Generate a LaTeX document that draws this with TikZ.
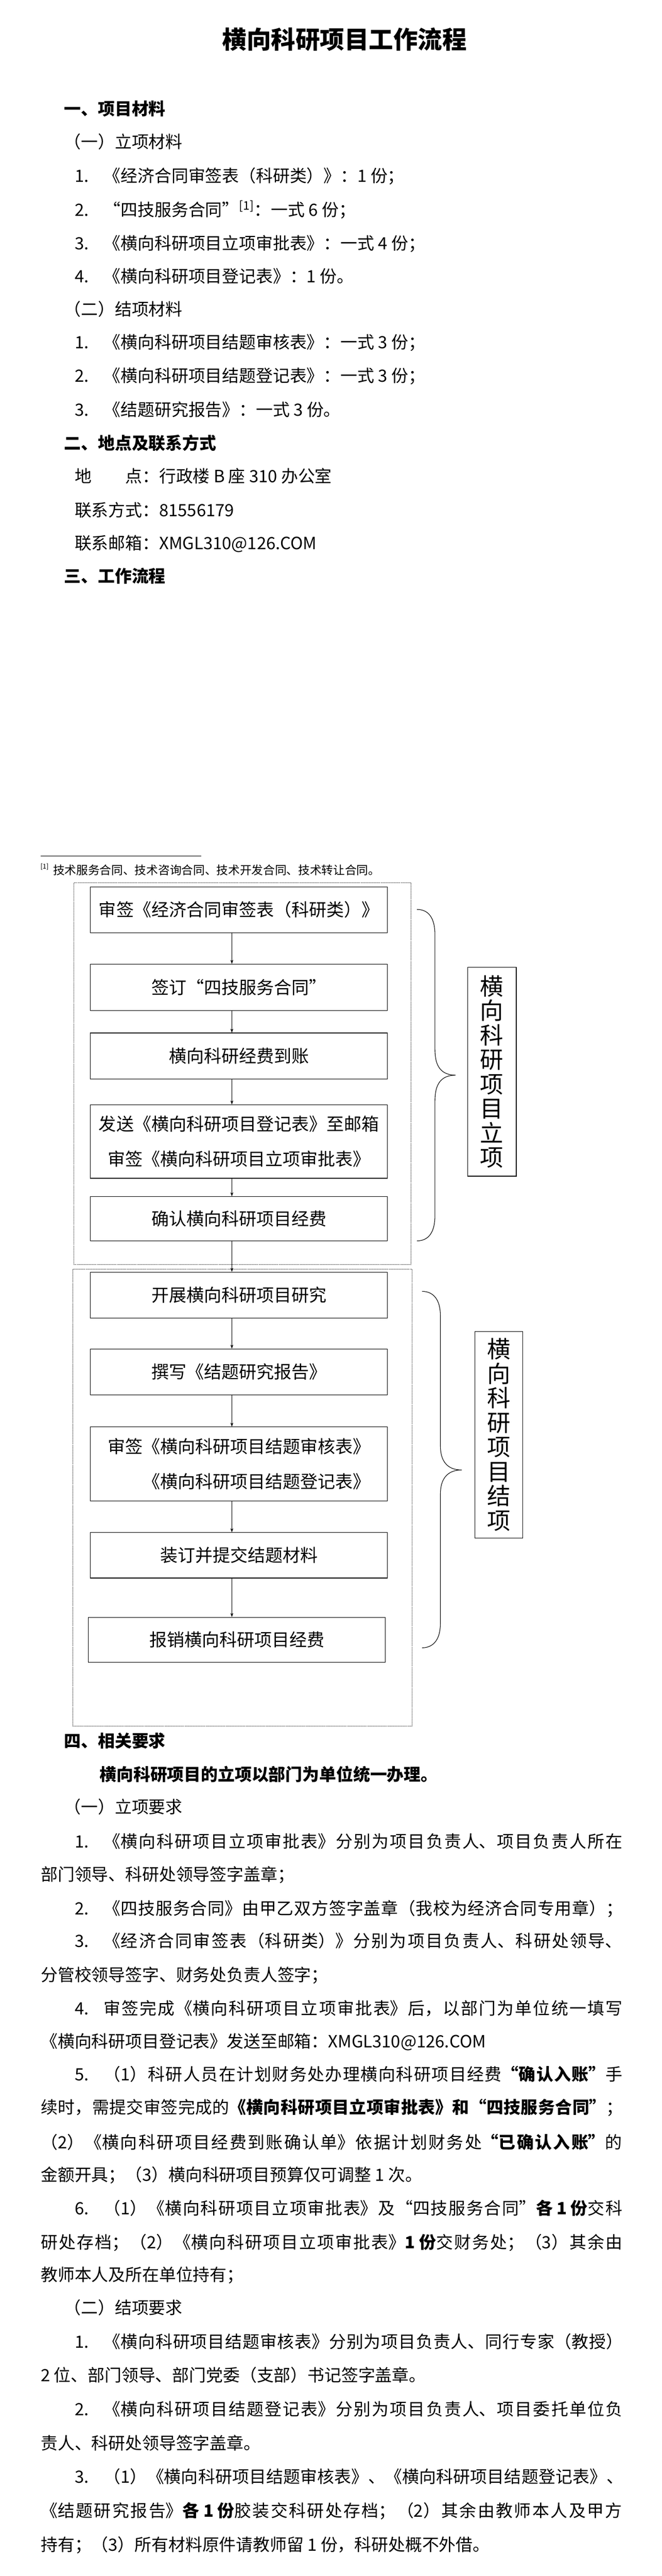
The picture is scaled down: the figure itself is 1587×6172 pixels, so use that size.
\documentclass[tikz,border=0pt]{standalone}
\usepackage{fontspec}
\setmainfont{Noto Sans CJK SC}
\usetikzlibrary{arrows.meta}
\XeTeXlinebreaklocale "zh"
\XeTeXlinebreakskip=0pt plus 1pt
\newcommand\bodyfs{\fontsize{15.2pt}{18pt}\selectfont}
\newcommand\boxfs{\fontsize{15.75pt}{31.5pt}\selectfont}
\newcommand\titlefs{\fontsize{22pt}{26pt}\selectfont\bfseries}
\newcommand\notefs{\fontsize{10.5pt}{12pt}\selectfont}
\newcommand\labfs{\fontsize{21pt}{22pt}\selectfont}
\newcommand\nsp{\hspace{0.9em}}
\newcommand\jfill{\XeTeXlinebreakskip=0pt plus 1fil\relax\parfillskip=0pt\relax}
\begin{document}
\begin{tikzpicture}[x=0.375pt, y=-0.375pt,
  tl/.style={anchor=west, inner sep=0pt, outer sep=0pt, text height=13.4pt, text depth=1.8pt, font=\bodyfs},
  bold/.style={font=\bodyfs\bfseries},
  jl/.style={tl, text width=493.5pt, align=justify},
  jlw/.style={tl, text width=523.9pt, align=justify},
  fb/.style={draw, line width=0.55pt, inner sep=0pt, minimum width=267pt, font=\boxfs, align=center},
  dotbox/.style={draw, line width=0.4pt, dash pattern=on 0.4pt off 0.55pt, inner sep=0pt},
  lb/.style={draw, line width=0.55pt, inner sep=0pt, font=\labfs, align=center},
  arr/.style={-{Stealth[length=3.6pt,width=2.6pt]}, line width=0.4pt},
  brace/.style={line width=0.5pt}
]
\useasboundingbox (0,0) rectangle (1587,6172);
\fill[white] (0,0) rectangle (1587,6172);

% ---------- title and part one ----------
\node[tl, font=\titlefs, anchor=center, text height=19.4pt, text depth=2.6pt] (title) at (826,94) {横向科研项目工作流程};
\node[tl, bold] (s1) at (154,260) {一、项目材料};
\node[tl] (s1a) at (154,339) {（一）立项材料};
\node[tl] (m1) at (179,421) {1.\nsp{}《经济合同审签表（科研类）》：1 份；};
\node[tl] (m2) at (179,502) {2.\nsp{}“四技服务合同”\textsuperscript{[1]}：一式 6 份；};
\node[tl] (m3) at (179,582) {3.\nsp{}《横向科研项目立项审批表》：一式 4 份；};
\node[tl] (m4) at (179,662) {4.\nsp{}《横向科研项目登记表》：1 份。};
\node[tl] (s1b) at (154,740) {（二）结项材料};
\node[tl] (n1) at (179,820) {1.\nsp{}《横向科研项目结题审核表》：一式 3 份；};
\node[tl] (n2) at (179,900) {2.\nsp{}《横向科研项目结题登记表》：一式 3 份；};
\node[tl] (n3) at (179,981) {3.\nsp{}《结题研究报告》：一式 3 份。};
\node[tl, bold] (s2) at (154,1061) {二、地点及联系方式};
\node[tl] (c1) at (179,1140) {地\hspace{2em}点：行政楼 B 座 310 办公室};
\node[tl] (c2) at (179,1222) {联系方式：81556179};
\node[tl] (c3) at (179,1301) {联系邮箱：XMGL310@126.COM};
\node[tl, bold] (s3) at (154,1380) {三、工作流程};

% ---------- footnote ----------
\draw[line width=0.4pt] (97,2051) -- (483,2051);
\node[tl, font=\notefs, text height=9.3pt, text depth=1.3pt] (fn) at (97,2085) {\raisebox{0.5em}{\fontsize{6pt}{6pt}\selectfont[1]}\hspace{4pt}技术服务合同、技术咨询合同、技术开发合同、技术转让合同。};

% ---------- flowchart ----------
\node[dotbox, minimum width=303.4pt, minimum height=343.1pt] (g1) at (581.5,2572.5) {};
\node[dotbox, minimum width=305.25pt, minimum height=410.6pt] (g2) at (581,3588.5) {};

\node[fb, minimum height=41.25pt] (b1) at (573,2180) {审签《经济合同审签表（科研类）》};
\node[fb, minimum height=41.6pt] (b2) at (573,2365.5) {签订“四技服务合同”};
\node[fb, minimum height=41.25pt] (b3) at (573,2530) {横向科研经费到账};
\node[fb, minimum height=66pt] (b4) at (573,2735) {发送《横向科研项目登记表》至邮箱\\审签《横向科研项目立项审批表》};
\node[fb, minimum height=39.75pt] (b5) at (573,2920) {确认横向科研项目经费};
\node[fb, minimum height=41.25pt] (b6) at (573,3103) {开展横向科研项目研究};
\node[fb, minimum height=41.25pt] (b7) at (573,3287) {撰写《结题研究报告》};
\node[fb, minimum height=66.4pt, align=right] (b8) at (573,3507.5) {审签《横向科研项目结题审核表》\\《横向科研项目结题登记表》};
\node[fb, minimum height=40.9pt] (b9) at (573,3726.5) {装订并提交结题材料};
\node[fb, minimum height=40.5pt] (b10) at (568,3929) {报销横向科研项目经费};

\coordinate (ax) at (556,0);
\foreach \a/\b in {b1/b2,b2/b3,b3/b4,b4/b5,b5/b6,b6/b7,b7/b8,b8/b9,b9/b10}
  \draw[arr] (\a.south -| ax) -- (\b.north -| ax);

\draw[brace] (1000,2179) .. controls (1028,2179) and (1043,2200) .. (1043,2240)
  -- (1043,2515) .. controls (1043,2555) and (1058,2576) .. (1093,2576)
  .. controls (1058,2576) and (1043,2597) .. (1043,2637)
  -- (1043,2912) .. controls (1043,2952) and (1028,2973) .. (1000,2973);
\draw[brace] (1012,3094) .. controls (1040,3094) and (1056,3115) .. (1056,3152)
  -- (1056,3464) .. controls (1056,3500) and (1072,3522) .. (1107,3522)
  .. controls (1072,3522) and (1056,3544) .. (1056,3580)
  -- (1056,3890) .. controls (1056,3927) and (1040,3948) .. (1012,3948);

\node[lb, minimum width=43.9pt, minimum height=187.5pt] (L1) at (1179.5,2568) {横\\向\\科\\研\\项\\目\\立\\项};
\node[lb, minimum width=43.1pt, minimum height=185.6pt] (L2) at (1196.5,3437.5) {横\\向\\科\\研\\项\\目\\结\\项};

% ---------- part four ----------
\node[tl, bold] (s4) at (154,4171) {四、相关要求};
\node[tl, bold] (r0) at (239,4251) {横向科研项目的立项以部门为单位统一办理。};
\node[tl] (s4a) at (154,4329) {（一）立项要求};
\node[jl] (r1) at (179,4412) {\jfill 1.\nsp{}《横向科研项目立项审批表》分别为项目负责人、项目负责人所在};
\node[tl] (r1b) at (98,4491) {部门领导、科研处领导签字盖章；};
\node[jl] (r2) at (179,4572) {\jfill 2.\nsp{}《四技服务合同》由甲乙双方签字盖章（我校为经济合同专用章）；};
\node[jl] (r3) at (179,4650) {\jfill 3.\nsp{}《经济合同审签表（科研类）》分别为项目负责人、科研处领导、};
\node[tl] (r3b) at (98,4731) {分管校领导签字、财务处负责人签字；};
\node[jl] (r4) at (179,4811) {\jfill 4.\nsp{}审签完成《横向科研项目立项审批表》后，以部门为单位统一填写};
\node[tl] (r4b) at (98,4890) {《横向科研项目登记表》发送至邮箱：XMGL310@126.COM};
\node[jl] (r5) at (179,4970) {\jfill 5.\nsp{}（1）科研人员在计划财务处办理横向科研项目经费\textbf{“确认入账”}手};
\node[jlw] (r5b) at (98,5049) {\jfill 续时，需提交审签完成的\textbf{《横向科研项目立项审批表》和“四技服务合同”}；};
\node[jlw] (r5c) at (98,5132) {\jfill （2）《横向科研项目经费到账确认单》依据计划财务处\textbf{“已确认入账”}的};
\node[tl] (r5d) at (98,5210) {金额开具；（3）横向科研项目预算仅可调整 1 次。};
\node[jl] (r6) at (179,5291) {\jfill 6.\nsp{}（1）《横向科研项目立项审批表》及“四技服务合同”\textbf{各 1 份}交科};
\node[jlw] (r6b) at (98,5372) {\jfill 研处存档；（2）《横向科研项目立项审批表》\textbf{1 份}交财务处；（3）其余由};
\node[tl] (r6c) at (98,5450) {教师本人及所在单位持有；};
\node[tl] (s4b) at (154,5529) {（二）结项要求};
\node[jl] (k1) at (179,5610) {\jfill 1.\nsp{}《横向科研项目结题审核表》分别为项目负责人、同行专家（教授）};
\node[tl] (k1b) at (98,5691) {2 位、部门领导、部门党委（支部）书记签字盖章。};
\node[jl] (k2) at (179,5772) {\jfill 2.\nsp{}《横向科研项目结题登记表》分别为项目负责人、项目委托单位负};
\node[tl] (k2b) at (98,5853) {责人、科研处领导签字盖章。};
\node[jl] (k3) at (179,5934) {\jfill 3.\nsp{}（1）《横向科研项目结题审核表》、《横向科研项目结题登记表》、};
\node[jlw] (k3b) at (98,6015) {\jfill 《结题研究报告》\textbf{各 1 份}胶装交科研处存档；（2）其余由教师本人及甲方};
\node[tl] (k3c) at (98,6096) {持有；（3）所有材料原件请教师留 1 份，科研处概不外借。};
\end{tikzpicture}
\end{document}
